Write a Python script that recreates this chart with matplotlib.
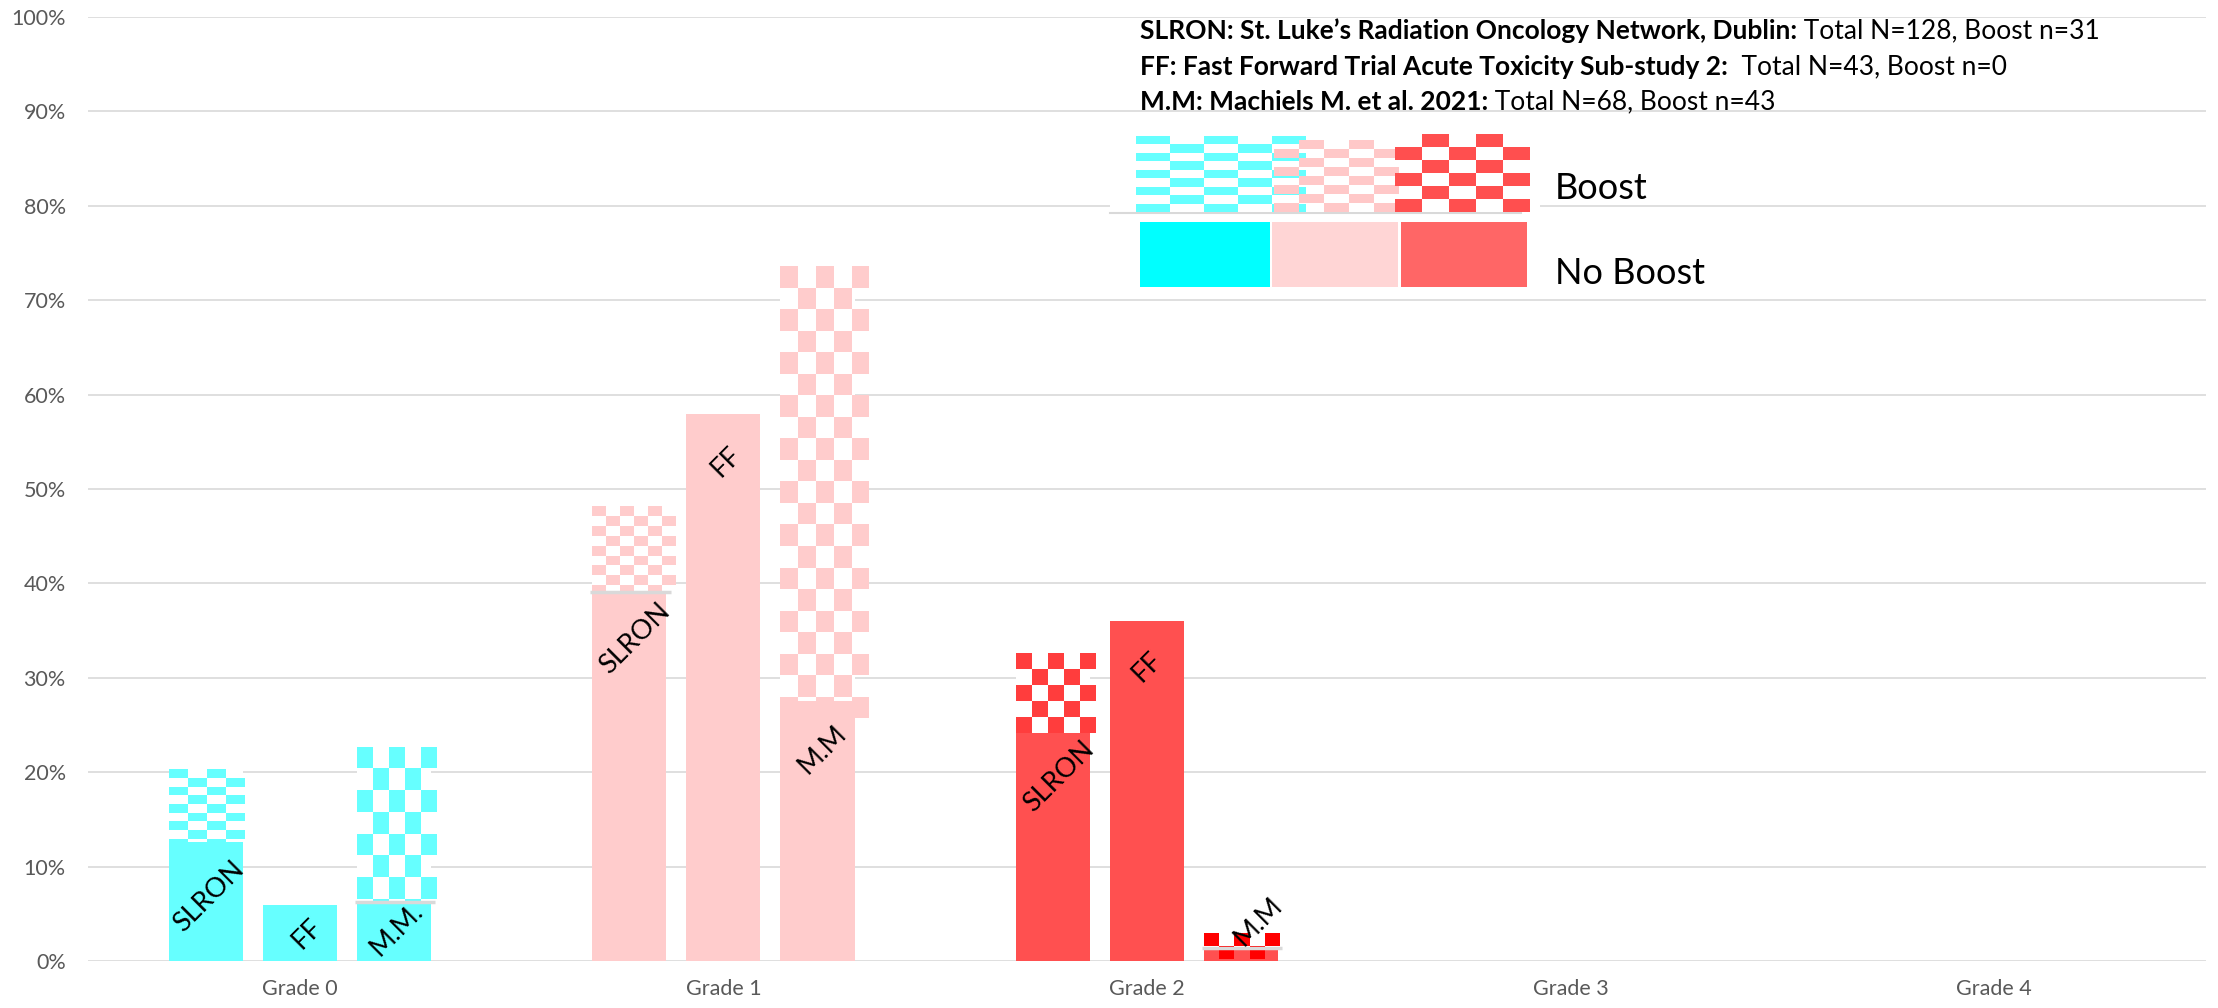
import matplotlib.pyplot as plt
from matplotlib.patches import Rectangle
import numpy as np

# acute toxicity by grade, % of patients
grades = ['Grade 0', 'Grade 1', 'Grade 2', 'Grade 3', 'Grade 4']
slron_no_boost = [12.6, 39.1, 24.1, 0, 0]
slron_boost = [7.7, 9.1, 8.5, 0, 0]
ff_no_boost = [5.9, 57.9, 36.0, 0, 0]
mm_no_boost = [6.2, 27.5, 1.4, 0, 0]
mm_boost = [16.5, 46.1, 1.6, 0, 0]

fill_colors = ['#66FFFF', '#FFCCCC', '#FF5050', '#FF5050', '#FF5050']
check_colors = ['#66FFFF', '#FFCCCC', '#FF3D3D', '#FF3D3D', '#FF3D3D']

plt.rcParams['font.family'] = ['Lato', 'DejaVu Sans']

W, H = 2218, 1008
fig = plt.figure(figsize=(W / 100, H / 100), dpi=100)
ax = fig.add_axes([88 / W, 47 / H, 2118 / W, 944 / H])


def checker(a, x0, w, y0, h, cw, ch, color, z=3):
    # white box with a chequerboard of coloured cells clipped to it
    base = Rectangle((x0, y0), w, h, facecolor='white', edgecolor='none', zorder=z)
    a.add_patch(base)
    top = y0 + h
    for i in range(int(np.ceil(h / ch))):
        for j in range(int(np.ceil(w / cw))):
            if (i + j) % 2 == 0:
                r = Rectangle((x0 + j * cw, top - (i + 1) * ch), cw, ch,
                              facecolor=color, edgecolor='none', zorder=z + 0.1)
                r.set_clip_path(base)
                a.add_patch(r)


x = np.arange(len(grades))
bw = 0.175
offs = [-0.222, 0, 0.222]

# cell sizes of the boost pattern (category units, percent)
slron_cells = [(0.045, 0.92), (0.033, 1.05), (0.038, 1.7)]
mm_cells = [(0.038, 2.3), (0.042, 2.28), (0.036, 1.4)]

for i in range(len(grades)):
    c = fill_colors[i]
    for k, nb in enumerate([slron_no_boost, ff_no_boost, mm_no_boost]):
        if nb[i] > 0:
            ax.bar(x[i] + offs[k], nb[i], width=bw, color=c, zorder=2)
    if slron_boost[i] > 0:
        cw, ch = slron_cells[i]
        checker(ax, x[i] + offs[0] - bw / 2, bw, slron_no_boost[i], slron_boost[i],
                cw, ch, check_colors[i])
    if mm_boost[i] > 0:
        cw, ch = mm_cells[i]
        col = '#FF0000' if i == 2 else check_colors[i]
        checker(ax, x[i] + offs[2] - bw / 2, bw, mm_no_boost[i], mm_boost[i],
                cw, ch, col)

# thin grey seams where the boost part sits on the bar
for gi, k, nb in [(0, 2, mm_no_boost), (1, 0, slron_no_boost), (2, 2, mm_no_boost)]:
    xc = x[gi] + offs[k]
    ax.plot([xc - bw / 2 - 0.005, xc + bw / 2 + 0.01], [nb[gi], nb[gi]],
            color='#D9D9D9', lw=2.5, zorder=4, solid_capstyle='butt')

# study names written on the bars
labels = [
    (0, 0, 'SLRON', 0.007, 6.8), (0, 1, 'FF', 0.017, 2.9), (0, 2, 'M.M.', 0.007, 3.4),
    (1, 0, 'SLRON', 0.014, 34.2), (1, 1, 'FF', 0.007, 52.9), (1, 2, 'M.M', 0.012, 22.4),
    (2, 0, 'SLRON', 0.014, 19.5), (2, 1, 'FF', 0.0, 31.2), (2, 2, 'M.M', 0.04, 4.2),
]
for gi, k, t, dx, yy in labels:
    ax.text(x[gi] + offs[k] + dx, yy, t, rotation=45, ha='center', va='center',
            fontsize=19.5, color='black', zorder=6, rotation_mode='anchor')

ax.set_xlim(-0.5, 4.5)
ax.set_ylim(0, 100)
ax.set_yticks(np.arange(0, 101, 10))
ax.set_yticklabels([f'{v}%' for v in range(0, 101, 10)])
ax.set_xticks(x)
ax.set_xticklabels(grades)
ax.yaxis.grid(True, color='#D9D9D9', lw=1.2, zorder=0)
ax.set_axisbelow(True)
for s in ax.spines.values():
    s.set_visible(False)
ax.tick_params(axis='both', length=0, labelsize=15.5, colors='#595959')
ax.tick_params(axis='y', pad=16)
ax.tick_params(axis='x', pad=13)

# legend panel, drawn in pixel units on top of the chart
ov = fig.add_axes([0, 0, 1, 1])
ov.set_xlim(0, W)
ov.set_ylim(H, 0)
ov.axis('off')

ov.add_patch(Rectangle((1110, 128), 430, 168, facecolor='white', edgecolor='none'))
checker(ov, 1136, 138, 140, 72, 34, 8.5, '#66FFFF')
checker(ov, 1274, 121, 140, 72, 25, 9, '#FFC8C8')
checker(ov, 1395, 126, 140, 72, 27, 13, '#FF4F4F')
ov.plot([1110, 1521], [213, 213], color='#D9D9D9', lw=1.5)
ov.add_patch(Rectangle((1140, 222), 130, 65, facecolor='#00FFFF', edgecolor='none'))
ov.add_patch(Rectangle((1272, 222), 126, 65, facecolor='#FFD5D5', edgecolor='none'))
ov.add_patch(Rectangle((1401, 222), 126, 65, facecolor='#FF6666', edgecolor='none'))
ov.text(1555, 199, 'Boost', fontsize=26, va='baseline', ha='left', color='black')
ov.text(1555, 284, 'No Boost', fontsize=26, va='baseline', ha='left', color='black')

notes = [
    ('SLRON: St. Luke\u2019s Radiation Oncology Network, Dublin:', ' Total N=128, Boost n=31', 39),
    ('FF: Fast Forward Trial Acute Toxicity Sub-study 2:', '  Total N=43, Boost n=0', 75),
    ('M.M: Machiels M. et al. 2021:', ' Total N=68, Boost n=43', 110),
]
for bold, rest, yb in notes:
    t = ov.text(1140, yb, bold, fontsize=19, fontweight='bold', va='baseline',
                ha='left', color='black')
    ov.annotate(rest, xy=(1, 0), xycoords=t, va='bottom', ha='left',
                fontsize=19, color='black')

fig.savefig('out.png', dpi=100, facecolor='white')
